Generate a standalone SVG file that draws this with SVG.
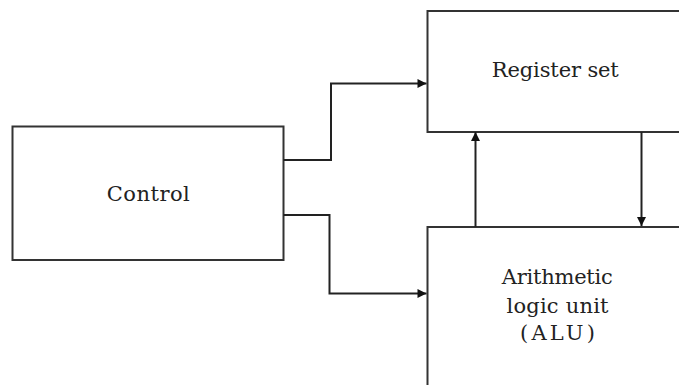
<svg xmlns="http://www.w3.org/2000/svg" width="679" height="385" viewBox="0 0 679 385">
<style>
.box{fill:#fff;stroke:#333;stroke-width:2}
.lbl{font-family:'DejaVu Serif','Liberation Serif',serif;font-size:21px;fill:#222;text-anchor:middle}
.wire{fill:none;stroke:#222;stroke-width:2}
</style>
<defs>
<marker id="ah" viewBox="0 0 10 10" refX="10" refY="5" markerWidth="10" markerHeight="9" markerUnits="userSpaceOnUse" orient="auto">
<path d="M0,0 L10,5 L0,10 Z" fill="#111"/>
</marker>
</defs>
<rect width="679" height="385" fill="#fff"/>
<g id="control">
<rect class="box" x="12.5" y="126.5" width="271" height="133.5"/>
<text class="lbl" x="148.3" y="201" textLength="83" lengthAdjust="spacing">Control</text>
</g>
<g id="register-set">
<rect class="box" x="427.5" y="11" width="300" height="121"/>
<text class="lbl" x="555.3" y="77" textLength="127" lengthAdjust="spacing">Register set</text>
</g>
<g id="alu">
<rect class="box" x="427.5" y="227" width="300" height="200"/>
<text class="lbl" x="557.3" y="284" textLength="111" lengthAdjust="spacing">Arithmetic</text>
<text class="lbl" x="557.5" y="313" textLength="102" lengthAdjust="spacing">logic unit</text>
<text class="lbl" x="557.5" y="340" textLength="75" lengthAdjust="spacing">(ALU)</text>
</g>
<g id="connectors">
<path class="wire" d="M283.5,160 H331 V83.5 H426.5" marker-end="url(#ah)"/>
<path class="wire" d="M283.5,215 H329.5 V293.5 H426.5" marker-end="url(#ah)"/>
<path class="wire" d="M475.5,227 V132" marker-end="url(#ah)"/>
<path class="wire" d="M641.5,132 V226" marker-end="url(#ah)"/>
</g>
</svg>
